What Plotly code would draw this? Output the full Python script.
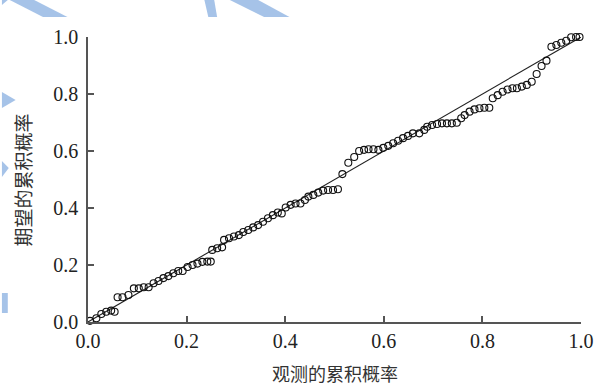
import plotly.graph_objects as go

# Observed cumulative probability (x) and expected cumulative probability (y)
observed = [0.004, 0.017, 0.027, 0.037, 0.047, 0.054, 0.060, 0.070, 0.082, 0.093,
            0.103, 0.113, 0.123, 0.133, 0.143, 0.153, 0.163, 0.173, 0.183, 0.192,
            0.202, 0.212, 0.222, 0.232, 0.242, 0.249, 0.252, 0.262, 0.272, 0.276,
            0.286, 0.296, 0.306, 0.315, 0.325, 0.335, 0.345, 0.355, 0.365, 0.375,
            0.385, 0.393, 0.401, 0.411, 0.421, 0.431, 0.440, 0.447, 0.457, 0.467,
            0.477, 0.487, 0.497, 0.507, 0.516, 0.528, 0.540, 0.550, 0.560, 0.569,
            0.579, 0.589, 0.599, 0.609, 0.619, 0.629, 0.639, 0.649, 0.659, 0.672,
            0.682, 0.688, 0.698, 0.708, 0.718, 0.728, 0.738, 0.748, 0.757, 0.764,
            0.774, 0.784, 0.794, 0.804, 0.814, 0.821, 0.831, 0.841, 0.851, 0.861,
            0.870, 0.880, 0.890, 0.900, 0.910, 0.920, 0.930, 0.940, 0.950, 0.960,
            0.970, 0.980, 0.990, 0.997]
expected = [0.004, 0.013, 0.028, 0.036, 0.040, 0.036, 0.087, 0.087, 0.095, 0.118,
            0.118, 0.122, 0.122, 0.136, 0.144, 0.154, 0.161, 0.171, 0.179, 0.179,
            0.193, 0.200, 0.205, 0.211, 0.212, 0.212, 0.253, 0.259, 0.262, 0.288,
            0.294, 0.300, 0.305, 0.316, 0.323, 0.332, 0.340, 0.352, 0.364, 0.375,
            0.384, 0.381, 0.402, 0.411, 0.416, 0.416, 0.428, 0.440, 0.446, 0.454,
            0.461, 0.463, 0.463, 0.466, 0.519, 0.559, 0.579, 0.600, 0.604, 0.606,
            0.606, 0.604, 0.611, 0.618, 0.627, 0.636, 0.645, 0.653, 0.662, 0.662,
            0.674, 0.685, 0.691, 0.695, 0.697, 0.697, 0.697, 0.699, 0.715, 0.726,
            0.738, 0.746, 0.750, 0.752, 0.752, 0.785, 0.796, 0.808, 0.816, 0.820,
            0.820, 0.826, 0.832, 0.843, 0.870, 0.898, 0.917, 0.966, 0.972, 0.980,
            0.987, 0.999, 1.000, 1.000]
ref_line = [0.0, 1.0]
tick_vals = [0.0, 0.2, 0.4, 0.6, 0.8, 1.0]
tick_text = ["0.0", "0.2", "0.4", "0.6", "0.8", "1.0"]
x_title = "观测的累积概率"
y_title = "期望的累积概率"

# full page 606x388; body margin is removed by the post script
W, H = 606, 388
L, R, T, B = 88, 14, 37, 66
PW, PH = W - L - R, H - T - B


def px(xp, yp):
    """page pixel -> paper coordinate"""
    return (xp - L) / PW, (H - B - yp) / PH


def poly(points):
    pts = [px(a, b) for a, b in points]
    d = "M " + " L ".join(f"{a:.4f},{b:.4f}" for a, b in pts) + " Z"
    return dict(type="path", path=d, xref="paper", yref="paper",
                fillcolor="rgba(150,185,228,0.85)", line=dict(width=0), layer="below")


fig = go.Figure()
fig.add_trace(go.Scatter(x=ref_line, y=ref_line, mode="lines",
                         line=dict(color="#222", width=1.1), hoverinfo="skip", cliponaxis=False))
fig.add_trace(go.Scatter(x=observed, y=expected, mode="markers", cliponaxis=False,
                         marker=dict(symbol="circle-open", size=7, color="#111",
                                     line=dict(width=1.1, color="#111"))))

axis_common = dict(range=[0, 1], tickvals=tick_vals, ticktext=tick_text,
                   showline=True, linecolor="#555", linewidth=1.6,
                   ticks="inside", ticklen=6, tickwidth=1.5, tickcolor="#555",
                   showgrid=False, zeroline=False,
                   tickfont=dict(family="Liberation Serif", size=20, color="#222"))

fig.update_layout(
    width=W, height=H, margin=dict(l=L, r=R, t=T, b=B),
    paper_bgcolor="white", plot_bgcolor="white", showlegend=False,
    xaxis=axis_common,
    yaxis=dict(axis_common, ticklabelstandoff=4),
    shapes=[
        poly([(0, 0), (6, 0), (0, 5)]),
        poly([(8, 0), (33, 0), (67, 17), (42, 17)]),
        poly([(207, 0), (217, 0), (220, 17), (211, 17)]),
        poly([(233, 0), (262, 0), (294, 17), (268, 17)]),
        poly([(0, 92), (14, 100), (0, 108)]),
        poly([(0, 161), (7, 168), (0, 177)]),
        poly([(0, 293), (6, 293), (6, 313), (0, 313)]),
    ],
    annotations=[
        dict(text=x_title, xref="paper", yref="paper", x=px(341, 0)[0], y=px(0, 373)[1],
             showarrow=False, font=dict(family="Noto Sans CJK SC", size=18, color="#333"),
             xanchor="center", yanchor="middle"),
        dict(text=y_title, xref="paper", yref="paper", x=px(21, 0)[0], y=px(0, 180)[1],
             showarrow=False, textangle=-90,
             font=dict(family="Noto Sans CJK SC", size=19, color="#333"),
             xanchor="center", yanchor="middle"),
    ],
)

fig.write_html("out.html", config={"displayModeBar": False},
               post_script="document.body.style.margin='0px';document.body.style.overflow='hidden';")
